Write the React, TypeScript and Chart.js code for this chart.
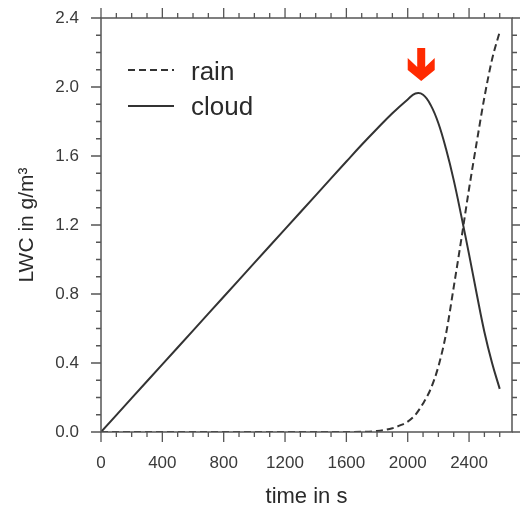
import React, { useEffect, useRef } from "react";
import { Chart, registerables } from "chart.js";

Chart.register(...registerables);

// ---- data ----
const CLOUD_TIME = [0, 200, 400, 600, 800, 1000, 1200, 1400, 1600, 1700, 1800, 1900, 2000, 2050, 2100, 2150, 2200, 2250, 2300, 2350, 2400, 2450, 2500, 2550, 2600];
const CLOUD_LWC = [0, 0.196, 0.392, 0.588, 0.784, 0.98, 1.176, 1.372, 1.568, 1.665, 1.758, 1.848, 1.928, 1.962, 1.955, 1.895, 1.79, 1.64, 1.46, 1.25, 1.03, 0.8, 0.58, 0.4, 0.25];
const RAIN_TIME = [0, 1000, 1600, 1700, 1800, 1900, 1950, 2000, 2050, 2100, 2150, 2200, 2250, 2300, 2350, 2400, 2450, 2500, 2550, 2600];
const RAIN_LWC = [0, 0, 0, 0.001, 0.006, 0.022, 0.038, 0.06, 0.1, 0.165, 0.25, 0.38, 0.57, 0.84, 1.12, 1.41, 1.68, 1.94, 2.16, 2.32];

const X_TICKS = [0, 400, 800, 1200, 1600, 2000, 2400];
const X_MINOR = [100, 200, 300, 500, 600, 700, 900, 1000, 1100, 1300, 1400, 1500, 1700, 1800, 1900, 2100, 2200, 2300, 2500, 2600];
const Y_TICKS = [0, 0.4, 0.8, 1.2, 1.6, 2.0, 2.4];
const Y_MINOR = [0.1, 0.2, 0.3, 0.5, 0.6, 0.7, 0.9, 1.0, 1.1, 1.3, 1.4, 1.5, 1.7, 1.8, 1.9, 2.1, 2.2, 2.3];
const X_MIN = 0;
const X_MAX = 2680;
const Y_MIN = 0;
const Y_MAX = 2.4;

// arrow marking the cloud maximum (data coords of the tip)
const ARROW_TIME = 2088;
const ARROW_LWC = 2.035;

const FONT = "'Liberation Sans', Arial, Helvetica, sans-serif";
const INK = "#333333";
const FRAME = "#555555";

const decorPlugin = {
  id: "decor",
  afterDraw(chart: any) {
    const ctx = chart.ctx;
    const { left, right, top, bottom } = chart.chartArea;
    const xs = chart.scales.x;
    const ys = chart.scales.y;
    ctx.save();
    // frame
    ctx.strokeStyle = FRAME;
    ctx.lineWidth = 1.5;
    ctx.strokeRect(left, top, right - left, bottom - top);
    // ticks
    const major = 10;
    const minor = 5;
    ctx.lineWidth = 1.3;
    ctx.beginPath();
    const xt = (v: number, len: number) => {
      const p = xs.getPixelForValue(v);
      ctx.moveTo(p, bottom);
      ctx.lineTo(p, bottom + len);
      ctx.moveTo(p, top);
      ctx.lineTo(p, top - len);
    };
    const yt = (v: number, len: number) => {
      const p = ys.getPixelForValue(v);
      ctx.moveTo(left, p);
      ctx.lineTo(left - len, p);
      ctx.moveTo(right, p);
      ctx.lineTo(right + len, p);
    };
    X_TICKS.forEach((v) => xt(v, major));
    X_MINOR.forEach((v) => xt(v, minor));
    Y_TICKS.forEach((v) => yt(v, major));
    Y_MINOR.forEach((v) => yt(v, minor));
    ctx.stroke();

    // legend
    const lx0 = left + 27;
    const lx1 = left + 73;
    const rows = [
      { y: top + 52, base: top + 62, ds: chart.data.datasets[0] },
      { y: top + 88, base: top + 97, ds: chart.data.datasets[1] },
    ];
    rows.forEach((r) => {
      ctx.strokeStyle = r.ds.borderColor;
      ctx.lineWidth = r.ds.borderWidth;
      ctx.setLineDash(r.ds.borderDash || []);
      ctx.beginPath();
      ctx.moveTo(lx0, r.y);
      ctx.lineTo(lx1, r.y);
      ctx.stroke();
      ctx.setLineDash([]);
      ctx.fillStyle = "#2a2a2a";
      ctx.font = `26px ${FONT}`;
      ctx.textBaseline = "alphabetic";
      ctx.textAlign = "left";
      ctx.fillText(r.ds.label, left + 90, r.base);
    });

    // red arrow
    const cx = xs.getPixelForValue(ARROW_TIME);
    const ty = ys.getPixelForValue(ARROW_LWC);
    const pts = [
      [-4, -33], [4, -33], [4, -14], [13.5, -23], [13.5, -11], [0, 0],
      [-13.5, -11], [-13.5, -23], [-4, -14],
    ];
    ctx.fillStyle = "#ff2a00";
    ctx.beginPath();
    pts.forEach(([dx, dy], i) => {
      if (i === 0) ctx.moveTo(cx + dx, ty + dy);
      else ctx.lineTo(cx + dx, ty + dy);
    });
    ctx.closePath();
    ctx.fill();
    ctx.restore();
  },
};

export default function App() {
  const ref = useRef<HTMLCanvasElement | null>(null);
  useEffect(() => {
    if (!ref.current) return;
    const chart = new Chart(ref.current, {
      type: "line",
      data: {
        datasets: [
          {
            label: "rain",
            data: RAIN_TIME.map((t, i) => ({ x: t, y: RAIN_LWC[i] })),
            borderColor: INK,
            borderWidth: 2,
            borderDash: [7, 4],
            pointRadius: 0,
            cubicInterpolationMode: "monotone",
            fill: false,
          },
          {
            label: "cloud",
            data: CLOUD_TIME.map((t, i) => ({ x: t, y: CLOUD_LWC[i] })),
            borderColor: INK,
            borderWidth: 2,
            pointRadius: 0,
            tension: 0.4,
            fill: false,
          },
        ],
      },
      options: {
        animation: false,
        responsive: true,
        maintainAspectRatio: false,
        layout: { padding: { top: 18, right: 8, left: 0, bottom: 0 } },
        plugins: { legend: { display: false }, tooltip: { enabled: false } },
        scales: {
          x: {
            type: "linear",
            min: X_MIN,
            max: X_MAX,
            afterBuildTicks: (s: any) => {
              s.ticks = X_TICKS.map((v) => ({ value: v }));
            },
            afterFit: (s: any) => {
              s.height = 74;
              s.paddingLeft = 0;
              s.paddingRight = 0;
            },
            grid: { display: false, drawTicks: false },
            border: { display: false },
            ticks: {
              padding: 21,
              maxRotation: 0,
              autoSkip: false,
              color: "#3a3a3a",
              font: { family: FONT, size: 17 },
              callback: (v: any) => String(v),
            },
            title: {
              display: true,
              text: "time in s",
              color: "#2a2a2a",
              font: { family: FONT, size: 22, lineHeight: 0.8 },
              padding: { top: 0, bottom: 0 },
            },
          },
          y: {
            type: "linear",
            min: Y_MIN,
            max: Y_MAX,
            afterBuildTicks: (s: any) => {
              s.ticks = Y_TICKS.map((v) => ({ value: v }));
            },
            afterFit: (s: any) => {
              s.width = 101;
              s.paddingTop = 0;
              s.paddingBottom = 0;
            },
            grid: { display: false, drawTicks: false },
            border: { display: false },
            ticks: {
              padding: 22,
              autoSkip: false,
              color: "#3a3a3a",
              font: { family: FONT, size: 17 },
              callback: (v: any) => Number(v).toFixed(1),
            },
            title: {
              display: true,
              text: "LWC in g/m³",
              color: "#2a2a2a",
              font: { family: FONT, size: 21, lineHeight: 1 },
              padding: { top: 17, bottom: 0 },
            },
          },
        },
      },
      plugins: [decorPlugin],
    } as any);
    return () => chart.destroy();
  }, []);
  return (
    <div style={{ position: "absolute", left: 0, top: 0, width: 520, height: 506, background: "#fff" }}>
      <canvas ref={ref} />
    </div>
  );
}
